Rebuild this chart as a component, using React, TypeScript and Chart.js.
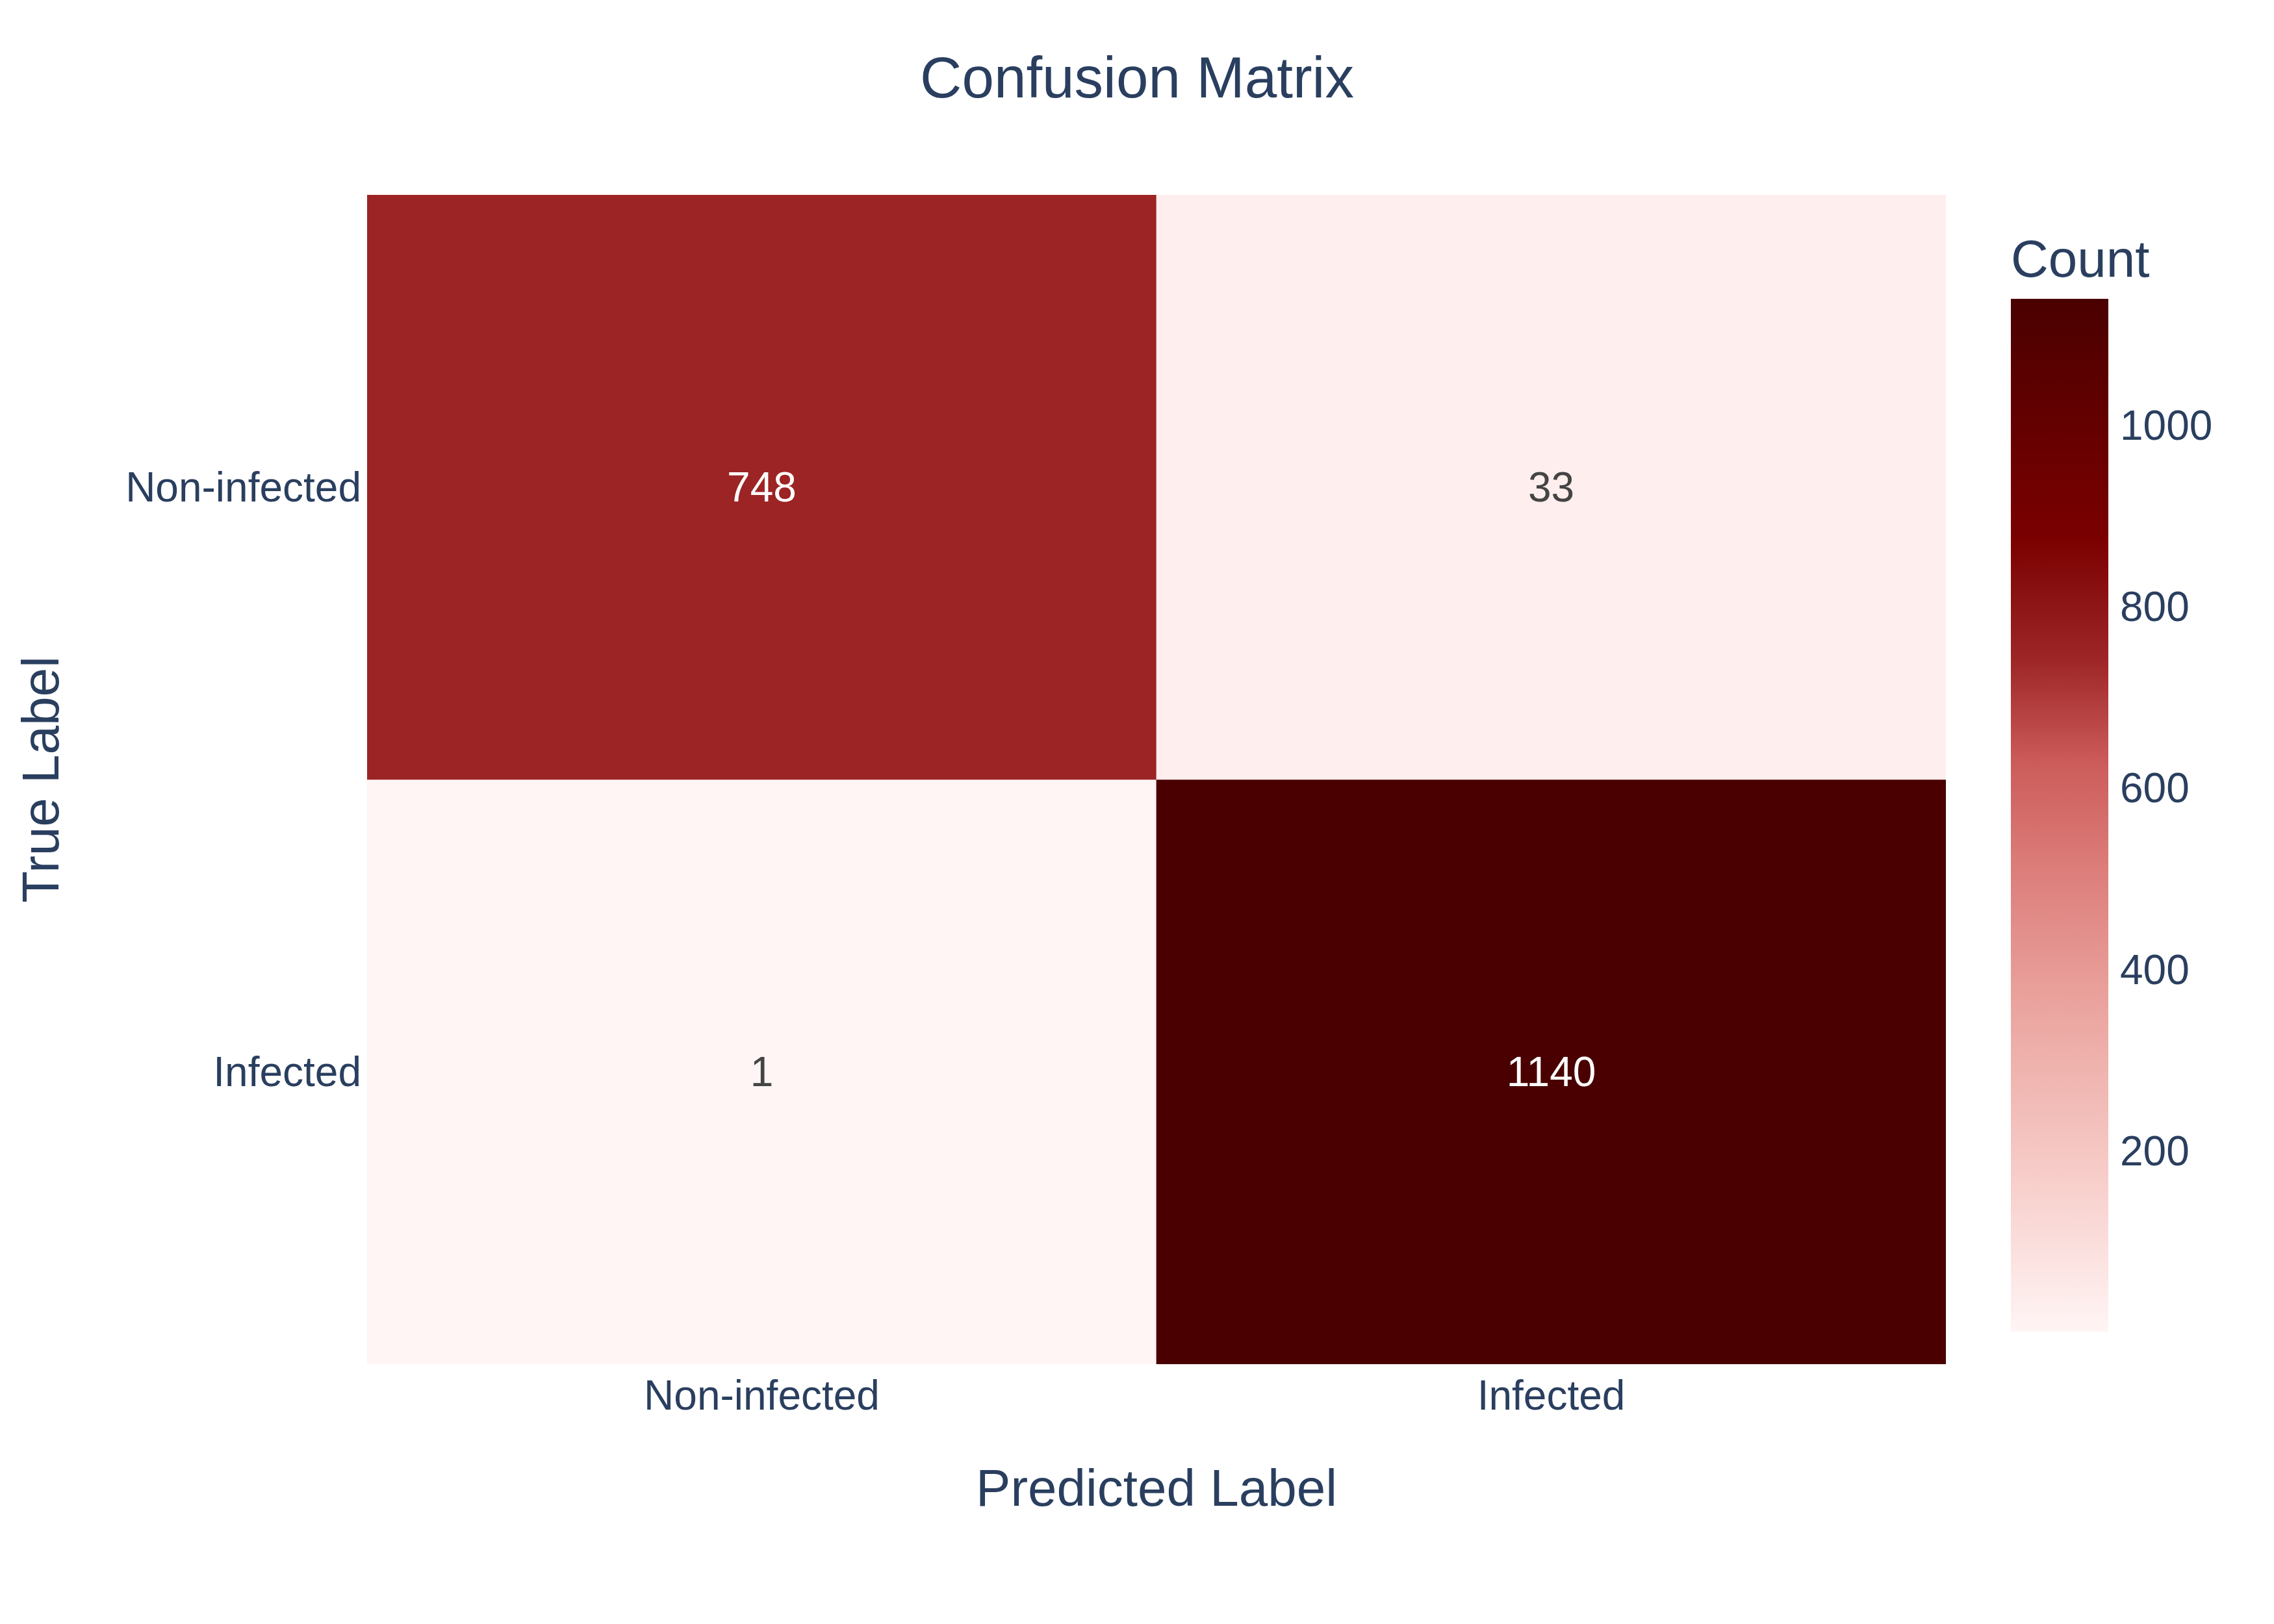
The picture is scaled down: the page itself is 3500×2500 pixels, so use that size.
import React, { useEffect, useRef } from 'react';
import { Chart, registerables } from 'chart.js';

Chart.register(...registerables);

// ---- data ----
const predictedLabels = ['Non-infected', 'Infected'];
const trueLabels = ['Non-infected', 'Infected'];
const rowNonInfected = [748, 33];
const rowInfected = [1, 1140];
const matrixRows = [rowNonInfected, rowInfected];
const colorbarTicks = [200, 400, 600, 800, 1000];
const chartTitle = 'Confusion Matrix';
const xAxisTitle = 'Predicted Label';
const yAxisTitle = 'True Label';
const colorbarTitle = 'Count';

const zMin = Math.min(...matrixRows.flat());
const zMax = Math.max(...matrixRows.flat());

// ---- style ----
const FONT = '"Liberation Sans", Arial, sans-serif';
const TEXT = '#2a3f5f';
const COLOR_STOPS: [number, number[]][] = [
  [0, [255, 245, 245]],
  [0.15, [247, 205, 201]],
  [0.3, [236, 168, 163]],
  [0.45, [220, 125, 122]],
  [0.55, [204, 92, 90]],
  [0.65, [158, 38, 38]],
  [0.77, [122, 0, 0]],
  [0.9, [96, 0, 0]],
  [1, [74, 0, 0]],
];

function colorAt(t: number): string {
  const tt = Math.max(0, Math.min(1, t));
  for (let i = 1; i < COLOR_STOPS.length; i++) {
    const [t1, c1] = COLOR_STOPS[i];
    const [t0, c0] = COLOR_STOPS[i - 1];
    if (tt <= t1) {
      const f = (tt - t0) / (t1 - t0);
      const c = c0.map((v, k) => Math.round(v + (c1[k] - v) * f));
      return `rgb(${c[0]},${c[1]},${c[2]})`;
    }
  }
  const c = COLOR_STOPS[COLOR_STOPS.length - 1][1];
  return `rgb(${c[0]},${c[1]},${c[2]})`;
}
const norm = (v: number) => (v - zMin) / (zMax - zMin);
const colorFor = (v: number) => colorAt(norm(v));

Chart.defaults.font.family = FONT;

const cellTextPlugin = {
  id: 'cellText',
  afterDatasetsDraw(chart: any) {
    const ctx = chart.ctx;
    ctx.save();
    ctx.font = `64px ${FONT}`;
    ctx.textAlign = 'center';
    ctx.textBaseline = 'middle';
    chart.data.datasets.forEach((_ds: any, di: number) => {
      const meta = chart.getDatasetMeta(di);
      const values = matrixRows[di];
      meta.data.forEach((el: any, i: number) => {
        const v = values[i];
        const { x, y, base } = el.getProps(['x', 'y', 'base'], true);
        ctx.fillStyle = norm(v) > 0.5 ? '#ffffff' : '#444444';
        ctx.fillText(String(v), x, (y + base) / 2 + 4);
      });
    });
    ctx.restore();
  },
};

const pageTitlePlugin = {
  id: 'pageTitle',
  afterDraw(chart: any) {
    const ctx = chart.ctx;
    ctx.save();
    ctx.font = `89px ${FONT}`;
    ctx.fillStyle = TEXT;
    ctx.textAlign = 'center';
    ctx.textBaseline = 'middle';
    ctx.fillText(chartTitle, chart.width / 2, 125);
    ctx.restore();
  },
};

export default function App() {
  const mainRef = useRef<HTMLCanvasElement | null>(null);
  const cbRef = useRef<HTMLCanvasElement | null>(null);

  useEffect(() => {
    if (!mainRef.current || !cbRef.current) return;

    const mainChart = new Chart(mainRef.current, {
      type: 'bar',
      data: {
        labels: predictedLabels,
        datasets: matrixRows.map((row, r) => ({
          label: trueLabels[r],
          data: row.map(() => [r - 0.5, r + 0.5]),
          backgroundColor: row.map((v) => colorFor(v)),
          borderWidth: 0,
          grouped: false,
          barPercentage: 1,
          categoryPercentage: 1,
        })),
      } as any,
      options: {
        responsive: false,
        animation: false,
        layout: { padding: { left: 0, top: 300, right: 505, bottom: 0 } },
        plugins: {
          legend: { display: false },
          tooltip: { enabled: false },
          title: { display: false },
        },
        scales: {
          x: {
            type: 'category',
            offset: true,
            grid: { display: false, drawTicks: false },
            border: { display: false },
            ticks: { font: { size: 64 }, color: TEXT, padding: 14, maxRotation: 0, autoSkip: false },
            title: {
              display: true,
              text: xAxisTitle,
              font: { size: 80 },
              color: TEXT,
              padding: { top: 0, bottom: 156 },
            },
            afterFit: (s: any) => {
              s.height = 400;
            },
          },
          y: {
            type: 'linear',
            min: -0.5,
            max: 1.5,
            reverse: true,
            grid: { display: false, drawTicks: false },
            border: { display: false },
            afterBuildTicks: (s: any) => {
              s.ticks = trueLabels.map((_, i) => ({ value: i }));
            },
            ticks: {
              font: { size: 64 },
              color: TEXT,
              padding: 9,
              labelOffset: 4,
              callback: (v: any) => trueLabels[v] ?? '',
            },
            title: {
              display: true,
              text: yAxisTitle,
              font: { size: 80 },
              color: TEXT,
              padding: { top: 20, bottom: 0 },
            },
            afterFit: (s: any) => {
              s.width = 565;
            },
          },
        },
      } as any,
      plugins: [cellTextPlugin, pageTitlePlugin],
    });

    const cbChart = new Chart(cbRef.current, {
      type: 'bar',
      data: {
        labels: [''],
        datasets: [
          {
            data: [[zMin, zMax]],
            borderWidth: 0,
            barPercentage: 1,
            categoryPercentage: 1,
            backgroundColor: (c: any) => {
              const chart = c.chart;
              const ys = chart.scales?.y;
              if (!chart.chartArea || !ys) return colorAt(0.5);
              const g = chart.ctx.createLinearGradient(
                0,
                ys.getPixelForValue(zMin),
                0,
                ys.getPixelForValue(zMax)
              );
              COLOR_STOPS.forEach(([t]) => g.addColorStop(t, colorAt(t)));
              return g;
            },
          },
        ],
      } as any,
      options: {
        responsive: false,
        animation: false,
        layout: { padding: { left: 0, right: 0, top: 356, bottom: 450 } },
        plugins: {
          legend: { display: false },
          tooltip: { enabled: false },
          title: {
            display: true,
            text: colorbarTitle,
            align: 'start',
            font: { size: 80, weight: 'normal' },
            color: TEXT,
            padding: { top: 0, bottom: 8 },
          },
        },
        scales: {
          x: { display: false },
          y: {
            type: 'linear',
            position: 'right',
            min: zMin,
            max: zMax,
            grid: { display: false, drawTicks: false },
            border: { display: false },
            afterBuildTicks: (s: any) => {
              s.ticks = colorbarTicks.map((v) => ({ value: v }));
            },
            ticks: {
              font: { size: 64 },
              color: TEXT,
              padding: 18,
              labelOffset: 4,
              callback: (v: any) => String(v),
            },
            afterFit: (s: any) => {
              s.width = 255;
            },
          },
        },
      } as any,
    });

    return () => {
      mainChart.destroy();
      cbChart.destroy();
    };
  }, []);

  return (
    <div style={{ position: 'absolute', left: 0, top: 0, width: 3500, height: 2500, background: '#ffffff' }}>
      <canvas
        ref={mainRef}
        width={3500}
        height={2500}
        style={{ position: 'absolute', left: 0, top: 0, display: 'block' }}
      />
      <canvas
        ref={cbRef}
        width={405}
        height={2500}
        style={{ position: 'absolute', left: 3095, top: 0, display: 'block' }}
      />
    </div>
  );
}
